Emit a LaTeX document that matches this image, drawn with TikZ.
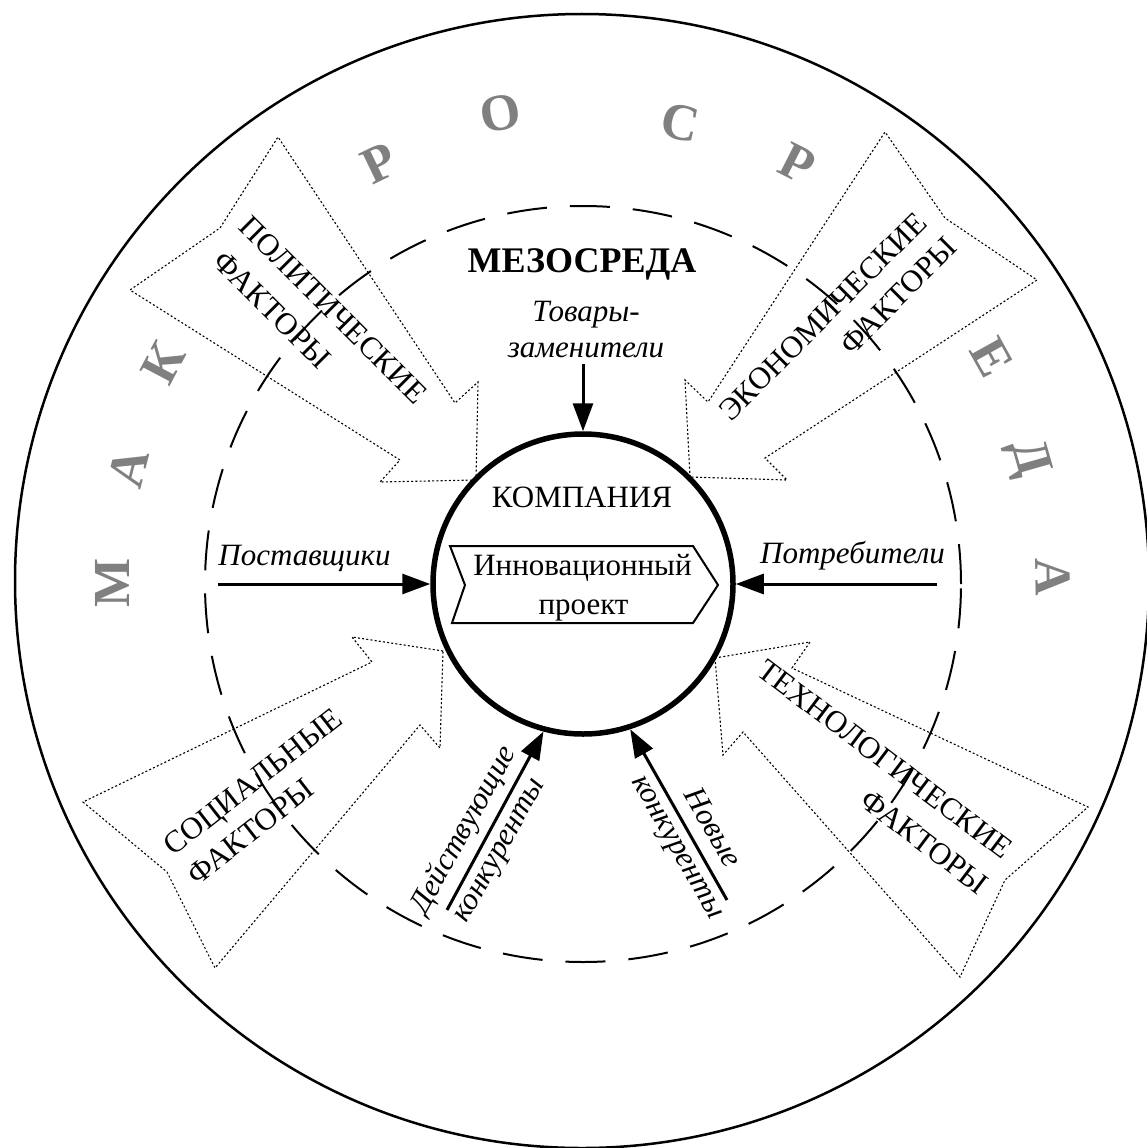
\documentclass[tikz,border=0pt]{standalone}
\usepackage{fontspec}
\setmainfont{Liberation Serif}
\usetikzlibrary{arrows.meta}
\definecolor{macrogray}{RGB}{128,128,128}
\begin{document}
\begin{tikzpicture}[x=1pt,y=-1pt,
  txt/.style={font=\fontsize{31}{36}\selectfont, inner sep=0pt},
  itxt/.style={font=\fontsize{31}{36}\selectfont\itshape, inner sep=0pt},
  factortxt/.style={font=\fontsize{31}{36}\selectfont, inner sep=0pt, text height=20.5pt, text depth=0pt, anchor=center},
  macro/.style={font=\fontsize{52}{60}\selectfont\bfseries, text=macrogray, inner sep=0pt, text height=35pt, text depth=0pt, anchor=center},
  factorarrow/.style={line width=1.1pt, dash pattern=on 2pt off 2.2pt, line join=miter},
  infl/.style={line width=3pt, -{Triangle[length=28pt,width=20pt]}},
  mesocircle/.style={line width=2pt, dash pattern=on 40pt off 23pt},
]
\useasboundingbox (0,0) rectangle (1146,1148);
% outer circle (macro environment)
\draw[line width=2.5pt] (582,581) circle[radius=567pt];
% meso circle
\draw[mesocircle] (583,584) circle[radius=378pt];

% factor arrows
\draw[factorarrow] (476,480) -- (478,382) -- (455,403) -- (278,137) -- (220,228) -- (130,290) -- (400,460) -- (380,482) -- cycle;
\draw[factorarrow] (690,477) -- (685,380) -- (708,402) -- (885,132) -- (945,218) -- (1037,280) -- (765,458) -- (787,480) -- cycle;
\draw[factorarrow] (443,651) -- (352,637) -- (372,662) -- (83,802) -- (167,872) -- (215,968) -- (420,725) -- (440,748) -- cycle;
\draw[factorarrow] (715,658) -- (810,642) -- (792,668) -- (1088,807) -- (1005,880) -- (960,977) -- (743,732) -- (723,755) -- cycle;

% company
\node[circle, draw, line width=5.5pt, fill=white, minimum size=300pt, inner sep=0pt] (comp) at (583,584) {};
\node[txt, anchor=base] (kompania) at (582,507) {КОМПАНИЯ};
\draw[line width=2pt, fill=white, line join=miter] (450,546) -- (693,546) -- (718,585) -- (693,623) -- (452,623) -- (465,585) -- cycle;
\node[txt, anchor=base] (proj1) at (582.5,575) {Инновационный};
\node[txt, anchor=base] (proj2) at (583.5,614) {проект};

% meso labels
\node[font=\fontsize{36}{40}\selectfont\bfseries, inner sep=0pt, anchor=base] (meso) at (582,272) {МЕЗОСРЕДА};
\node[itxt, anchor=base] (tov1) at (586,321) {Товары-};
\node[itxt, anchor=base] (tov2) at (586,357) {заменители};
\coordinate (tovs) at (583,364);
\draw[infl] (tovs) -- (comp.north);

\node[itxt, anchor=base] (post) at (304.5,565) {Поставщики};
\coordinate (postt) at (218,584);
\draw[infl] (postt) -- (comp.west);

\node[itxt, anchor=base] (potr) at (852.5,563) {Потребители};
\coordinate (potrt) at (937,584);
\draw[infl] (potrt) -- (comp.east);

\node[itxt, anchor=base, rotate=60.8] (deist1) at (471,834) {Действующие};
\node[itxt, anchor=base, rotate=60.8] (deist2) at (506,854) {конкуренты};
\coordinate (deistt) at (447,910);
\draw[infl] (deistt) -- (comp.255.8);

\node[itxt, anchor=base, rotate=-60.5] (nov1) at (705,832) {Новые};
\node[itxt, anchor=base, rotate=-60.5] (nov2) at (671,851) {конкуренты};
\coordinate (novt) at (727,900);
\draw[infl] (novt) -- (comp.288.4);

% factor labels
\node[factortxt, rotate=-45] (pol1) at (333.5,310) {ПОЛИТИЧЕСКИЕ};
\node[factortxt, rotate=-45] (pol2) at (272.5,310) {ФАКТОРЫ};
\node[factortxt, rotate=45] (eco1) at (822.5,316.5) {ЭКОНОМИЧЕСКИЕ};
\node[factortxt, rotate=45] (eco2) at (898.5,295.5) {ФАКТОРЫ};
\node[factortxt, rotate=38] (soc1) at (252.5,781.5) {СОЦИАЛЬНЫЕ};
\node[factortxt, rotate=38] (soc2) at (250.5,831.5) {ФАКТОРЫ};
\node[factortxt, rotate=-37] (tech1) at (885,759) {ТЕХНОЛОГИЧЕСКИЕ};
\node[factortxt, rotate=-37] (tech2) at (924.5,842) {ФАКТОРЫ};

% macro environment letters
\node[macro, rotate=90] (m1) at (112,583) {М};
\node[macro, rotate=75.6] (m2) at (128,468) {А};
\node[macro, rotate=62.1] (m3) at (163,363) {К};
\node[macro, rotate=25.8] (m4) at (379,163) {Р};
\node[macro, rotate=10] (m5) at (500,113) {О};
\node[macro, rotate=-11.8] (m6) at (680,122) {С};
\node[macro, rotate=-27] (m7) at (798,163) {Р};
\node[macro, rotate=-60.9] (m8) at (992,357) {Е};
\node[macro, rotate=-74.1] (m9) at (1033,457) {Д};
\node[macro, rotate=-89] (m10) at (1053,577) {А};
\end{tikzpicture}
\end{document}
